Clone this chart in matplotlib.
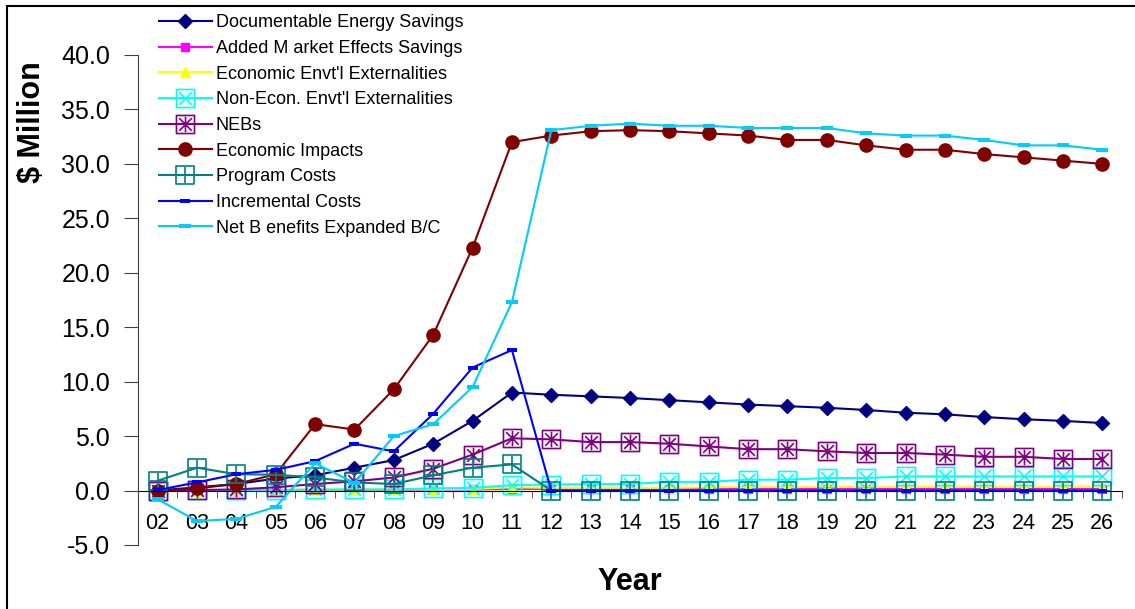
import matplotlib
matplotlib.use('Agg')
import matplotlib.pyplot as plt
import numpy as np
from matplotlib.path import Path
from matplotlib.patches import Rectangle

plt.rcParams['font.family'] = ['Liberation Sans', 'DejaVu Sans']

years = ['02', '03', '04', '05', '06', '07', '08', '09', '10', '11', '12', '13', '14',
         '15', '16', '17', '18', '19', '20', '21', '22', '23', '24', '25', '26']

doc_savings = [0.0, 0.3, 0.6, 1.1, 1.4, 2.1, 2.8, 4.3, 6.4, 9.0, 8.8, 8.65, 8.5,
               8.3, 8.1, 7.9, 7.75, 7.6, 7.4, 7.15, 7.0, 6.75, 6.55, 6.4, 6.2]
market_effects = [0.0, 0.0, 0.0, 0.05, 0.05, 0.05, 0.05, 0.1, 0.1, 0.15, 0.15, 0.15, 0.15,
                  0.15, 0.15, 0.15, 0.15, 0.15, 0.15, 0.15, 0.15, 0.15, 0.15, 0.15, 0.15]
econ_envt = [0.0, 0.0, 0.02, 0.05, 0.08, 0.1, 0.1, 0.12, 0.15, 0.3, 0.25, 0.25, 0.25,
             0.25, 0.3, 0.35, 0.35, 0.35, 0.35, 0.35, 0.35, 0.35, 0.35, 0.35, 0.35]
nonecon_envt = [0.0, 0.05, 0.05, 0.05, 0.1, 0.1, 0.1, 0.2, 0.25, 0.5, 0.55, 0.6, 0.6,
                0.8, 0.8, 1.0, 1.0, 1.15, 1.15, 1.3, 1.3, 1.3, 1.3, 1.3, 1.3]
nebs = [0.0, 0.05, 0.1, 0.3, 0.6, 0.85, 1.2, 2.0, 3.3, 4.8, 4.7, 4.45, 4.45,
        4.3, 4.05, 3.8, 3.8, 3.6, 3.45, 3.45, 3.3, 3.1, 3.1, 2.9, 2.9]
econ_impacts = [0.0, 0.2, 0.6, 1.5, 6.1, 5.6, 9.3, 14.3, 22.3, 32.0, 32.6, 33.0, 33.1,
                33.0, 32.8, 32.6, 32.2, 32.2, 31.7, 31.3, 31.3, 30.9, 30.6, 30.3, 30.0]
program_costs = [0.9, 2.1, 1.5, 1.45, 1.2, 0.75, 0.6, 1.4, 2.1, 2.4, 0.0, 0.0, 0.0,
                 0.0, 0.0, 0.0, 0.0, 0.0, 0.0, 0.0, 0.0, 0.0, 0.0, 0.0, 0.0]
incremental_costs = [0.05, 0.75, 1.5, 1.9, 2.7, 4.3, 3.6, 7.05, 11.3, 12.9, 0.0, 0.0, 0.0,
                     0.0, 0.0, 0.0, 0.0, 0.0, 0.0, 0.0, 0.0, 0.0, 0.0, 0.0, 0.0]
net_benefits = [-0.8, -2.8, -2.6, -1.5, 2.5, 0.7, 5.0, 6.1, 9.5, 17.3, 33.1, 33.5, 33.7,
                33.5, 33.5, 33.3, 33.3, 33.3, 32.8, 32.6, 32.6, 32.2, 31.7, 31.7, 31.3]


# box markers: square outline with a symbol inside
def box_marker(inner):
    verts = [(-1, -1), (1, -1), (1, 1), (-1, 1), (-1, -1)]
    codes = [Path.MOVETO, Path.LINETO, Path.LINETO, Path.LINETO, Path.CLOSEPOLY]
    for a, b in inner:
        verts += [a, b]
        codes += [Path.MOVETO, Path.LINETO]
    return Path(verts, codes)

k = 0.7
box_x = box_marker([((-k, -k), (k, k)), ((-k, k), (k, -k))])
box_star = box_marker([((-k, -k), (k, k)), ((-k, k), (k, -k)), ((0, -0.85), (0, 0.85))])
box_plus = box_marker([((0, -0.85), (0, 0.85)), ((-0.85, 0), (0.85, 0))])

def dash(w, h):
    return Path([(-w, -h), (w, -h), (w, h), (-w, h), (-w, -h)],
                [Path.MOVETO, Path.LINETO, Path.LINETO, Path.LINETO, Path.CLOSEPOLY])

dash_small = dash(1.0, 0.45)
dash_wide = dash(1.0, 0.3)

fig = plt.figure(figsize=(11.35, 6.09), dpi=100)
ax = fig.add_axes([138/1135, 1 - 545/609, 984/1135, 490/609])

x = np.arange(len(years))
lw = 1.5

ax.plot(x, doc_savings, color='#000080', lw=lw, marker='D', ms=7.5,
        label='Documentable Energy Savings')
ax.plot(x, market_effects, color='#FF00FF', lw=lw, marker='s', ms=6,
        label='Added M arket Effects Savings')
ax.plot(x, econ_envt, color='#FFFF00', lw=lw, marker='^', ms=7.5,
        label="Economic Envt'l Externalities")
ax.plot(x, nonecon_envt, color='#00FFFF', lw=lw, marker=box_x, ms=13, mfc='none', mew=1.2,
        label="Non-Econ. Envt'l Externalities")
ax.plot(x, nebs, color='#800080', lw=lw, marker=box_star, ms=13, mfc='none', mew=1.2,
        label='NEBs')
ax.plot(x, econ_impacts, color='#800000', lw=lw, marker='o', ms=9.5,
        label='Economic Impacts')
ax.plot(x, program_costs, color='#008080', lw=lw, marker=box_plus, ms=13, mfc='none', mew=1.2,
        label='Program Costs')
ax.plot(x, incremental_costs, color='#0000FF', lw=lw, marker=dash_small, ms=6.5, mew=0,
        label='Incremental Costs')
ax.plot(x, net_benefits, color='#00CCFF', lw=lw, marker=dash_wide, ms=9, mew=0,
        label='Net B enefits Expanded B/C')

ax.set_xlim(-0.5, len(years) - 0.5)
ax.set_ylim(-5, 40)
ax.set_yticks(np.arange(-5, 41, 5))
ax.set_yticklabels([f'{v:.1f}' for v in np.arange(-5, 41, 5)])

ax.spines['top'].set_visible(False)
ax.spines['right'].set_visible(False)
ax.spines['bottom'].set_position(('data', 0))
ax.spines['left'].set_color('#404040')

ax.set_xticks(x)
ax.set_xticklabels(years)
ax.set_xticks(np.arange(-0.5, len(years), 1), minor=True)
ax.tick_params(axis='x', which='major', length=0, pad=16, labelsize=15.5)
ax.tick_params(axis='x', which='minor', length=5, direction='out', color='#404040')
ax.tick_params(axis='y', length=10, direction='out', pad=10, labelsize=18, color='#404040')

fig.text(32/1135, 1 - 122/609, '$ Million', rotation=90, ha='center', va='center',
         fontsize=22, fontweight='bold')
fig.text(630/1135, 1 - 582/609, 'Year', ha='center', va='center',
         fontsize=22, fontweight='bold')

ax.legend(loc='upper left', bbox_to_anchor=(152/1135, 1 - 7/609),
          bbox_transform=fig.transFigure, frameon=False, fontsize=13,
          handlelength=2.9, handletextpad=0.22, labelspacing=0.48, borderaxespad=0)

# outer frame around the chart (right and bottom edges fall outside)
fig.patches.append(Rectangle((7/1135, -0.1), 1.5, 1.1 - 6/609, transform=fig.transFigure,
                             fill=False, edgecolor='black', lw=1.5))

fig.savefig('out.png', dpi=100)
